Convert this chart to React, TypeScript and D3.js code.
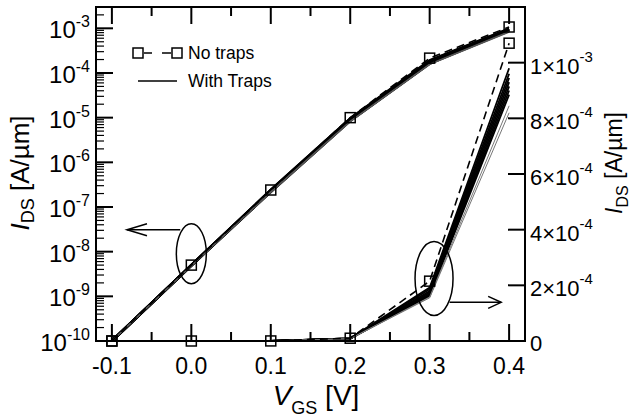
import React from 'react';
import * as d3 from 'd3';

// ---------- data ----------
const vgs = [-0.1, 0.0, 0.1, 0.2, 0.3, 0.4];
const xTickValues = [-0.1, 0.0, 0.1, 0.2, 0.3, 0.4];
const xTickLabels = ['-0.1', '0.0', '0.1', '0.2', '0.3', '0.4'];
const xMinorTicks = [-0.05, 0.05, 0.15, 0.25, 0.35];
const logTickExponents = [-10, -9, -8, -7, -6, -5, -4, -3];
const linTickValues = [0, 2e-4, 4e-4, 6e-4, 8e-4, 1e-3];
const linTickMantissas = ['0', '2', '4', '6', '8', '1'];
const linTickExps = ['', '-4', '-4', '-4', '-4', '-3'];

const noTraps = [1e-10, 5e-9, 2.4e-7, 1e-5, 2.15e-4, 1.07e-3];
const trapA = [1e-10, 5e-9, 2.4e-7, 9.6e-6, 1.92e-4, 9.8e-4];
const trapB = [1e-10, 5e-9, 2.4e-7, 9.4e-6, 1.86e-4, 9.6e-4];
const trapC = [1e-10, 5e-9, 2.3e-7, 9.2e-6, 1.8e-4, 9.45e-4];
const trapD = [1e-10, 5e-9, 2.3e-7, 9.0e-6, 1.75e-4, 9.3e-4];
const trapE = [1e-10, 4.9e-9, 2.3e-7, 8.8e-6, 1.7e-4, 9.15e-4];
const trapF = [1e-10, 4.9e-9, 2.2e-7, 8.6e-6, 1.66e-4, 9.0e-4];
const trapG = [1e-10, 4.9e-9, 2.2e-7, 8.5e-6, 1.62e-4, 8.85e-4];
const trapH = [1e-10, 4.8e-9, 2.2e-7, 8.3e-6, 1.58e-4, 8.45e-4];
const trapI = [1e-10, 4.8e-9, 2.1e-7, 8.1e-6, 1.55e-4, 8.2e-4];
const withTraps = [trapA, trapB, trapC, trapD, trapE, trapF, trapG, trapH, trapI];
const grayTraps = [false, false, false, false, false, false, false, true, true];

// annotation anchors (data space)
const leftEllipse = { x: 0.0, y: 9e-9 };
const rightEllipse = { x: 0.3055, y: 2.25e-4 };
const leftArrow = { x1: -0.014, x2: -0.081, y: 3.1e-8 };
const rightArrow = { x1: 0.325, x2: 0.39, y: 1.39e-4 };

// ---------- layout ----------
const W = 633;
const H = 419;
const L = 96, R = 525, T = 7, B = 341;
const FONT = "'Liberation Sans', Arial, Helvetica, sans-serif";

const x = d3.scaleLinear().domain([-0.12, 0.42]).range([L, R]);
const yLog = d3.scaleLog().domain([1e-10, 3e-3]).range([B, T]);
const yLin = d3.scaleLinear().domain([0, 1.2e-3]).range([B, T]);

export default function App() {
  const pts = (arr: number[]) => arr.map((v, i) => [vgs[i], v] as [number, number]);
  const logLine = d3.line<[number, number]>().x(d => x(d[0])).y(d => yLog(d[1]));
  const linLine = d3.line<[number, number]>().x(d => x(d[0])).y(d => yLin(d[1]));

  const minorLog = yLog.ticks().filter(v => {
    const e = Math.log10(v);
    return Math.abs(e - Math.round(e)) > 1e-6;
  });

  const sq = 10;

  return (
    <svg width={W} height={H} style={{ position: 'absolute', left: 0, top: 0, background: '#fff' }} fontFamily={FONT}>
      <rect x={0} y={0} width={W} height={H} fill="#fff" />

      {/* with traps lines (linear, right axis) */}
      {withTraps.map((s, i) => (
        <path key={'lin' + i} d={linLine(pts(s)) || ''} fill="none"
          stroke={grayTraps[i] ? '#777' : '#000'} strokeWidth={grayTraps[i] ? 1 : 1.8} />
      ))}
      {/* with traps lines (log, left axis) */}
      {withTraps.map((s, i) => (
        <path key={'log' + i} d={logLine(pts(s)) || ''} fill="none"
          stroke={grayTraps[i] ? '#555' : '#000'} strokeWidth={grayTraps[i] ? 1.2 : 2.6} />
      ))}

      {/* no traps dashed */}
      <path d={linLine(pts(noTraps)) || ''} fill="none" stroke="#000" strokeWidth={1.6} strokeDasharray="8,5" />
      <path d={logLine(pts(noTraps)) || ''} fill="none" stroke="#000" strokeWidth={1.6} strokeDasharray="8,5" />
      {noTraps.map((v, i) => (
        <rect key={'sl' + i} x={x(vgs[i]) - sq / 2} y={yLog(v) - sq / 2} width={sq} height={sq}
          fill="none" stroke="#000" strokeWidth={1.5} />
      ))}
      {noTraps.map((v, i) => (
        <rect key={'sn' + i} x={x(vgs[i]) - sq / 2} y={yLin(v) - sq / 2} width={sq} height={sq}
          fill="none" stroke="#000" strokeWidth={1.5} />
      ))}

      {/* frame */}
      <rect x={L} y={T} width={R - L} height={B - T} fill="none" stroke="#000" strokeWidth={2} />

      {/* x ticks bottom/top */}
      {xTickValues.map((v, i) => (
        <g key={'xt' + i}>
          <line x1={x(v)} x2={x(v)} y1={B} y2={B - 17} stroke="#000" strokeWidth={2} />
          <line x1={x(v)} x2={x(v)} y1={T} y2={T + 17} stroke="#000" strokeWidth={2} />
          <text x={x(v)} y={374} textAnchor="middle" fontSize={23}>{xTickLabels[i]}</text>
        </g>
      ))}
      {xMinorTicks.map((v, i) => (
        <g key={'xm' + i}>
          <line x1={x(v)} x2={x(v)} y1={B} y2={B - 9} stroke="#000" strokeWidth={2} />
          <line x1={x(v)} x2={x(v)} y1={T} y2={T + 9} stroke="#000" strokeWidth={2} />
        </g>
      ))}

      {/* left log axis */}
      {logTickExponents.map((e, i) => {
        const yy = yLog(Math.pow(10, e));
        return (
          <g key={'ly' + i}>
            <line x1={L} x2={L + 17} y1={yy} y2={yy} stroke="#000" strokeWidth={2} />
            <text x={90} y={yy + 10} textAnchor="end" fontSize={24}>
              <tspan>10</tspan>
              <tspan dy={-11} fontSize={16}>{String(e)}</tspan>
            </text>
          </g>
        );
      })}
      {minorLog.map((v, i) => (
        <line key={'lm' + i} x1={L} x2={L + 8} y1={yLog(v)} y2={yLog(v)} stroke="#000" strokeWidth={1.2} />
      ))}

      {/* right linear axis */}
      {linTickValues.map((v, i) => {
        const yy = yLin(v);
        return (
          <g key={'ry' + i}>
            <line x1={R} x2={R - 17} y1={yy} y2={yy} stroke="#000" strokeWidth={2} />
            {linTickExps[i] === '' ? (
              <text x={530} y={yy + 10} fontSize={22}>{linTickMantissas[i]}</text>
            ) : (
              <text x={530} y={yy + 11} fontSize={22}>
                <tspan>{linTickMantissas[i] + '×10'}</tspan>
                <tspan dy={-12} fontSize={15}>{linTickExps[i]}</tspan>
              </text>
            )}
          </g>
        );
      })}

      {/* axis titles */}
      <text x={316} y={405} textAnchor="middle" fontSize={28}>
        <tspan fontStyle="italic">V</tspan>
        <tspan dy={9} fontSize={18}>GS</tspan>
        <tspan dy={-9}> [V]</tspan>
      </text>
      <text transform="translate(29,173) rotate(-90)" textAnchor="middle" fontSize={26}>
        <tspan fontStyle="italic">I</tspan>
        <tspan dy={5} fontSize={18}>DS</tspan>
        <tspan dy={-5}> [A/µm]</tspan>
      </text>
      <text transform="translate(622,163) rotate(-90)" textAnchor="middle" fontSize={23}>
        <tspan fontStyle="italic">I</tspan>
        <tspan dy={6} fontSize={16}>DS</tspan>
        <tspan dy={-6}> [A/µm]</tspan>
      </text>

      {/* annotations */}
      <ellipse cx={x(leftEllipse.x)} cy={yLog(leftEllipse.y)} rx={15} ry={30} fill="none" stroke="#000" strokeWidth={1.5} />
      <line x1={x(leftArrow.x1)} x2={x(leftArrow.x2)} y1={yLog(leftArrow.y)} y2={yLog(leftArrow.y)} stroke="#000" strokeWidth={1.5} />
      <polyline points={`${x(leftArrow.x2) + 20},${yLog(leftArrow.y) - 6} ${x(leftArrow.x2)},${yLog(leftArrow.y)} ${x(leftArrow.x2) + 20},${yLog(leftArrow.y) + 6}`}
        fill="none" stroke="#000" strokeWidth={1.5} />

      <ellipse cx={x(rightEllipse.x)} cy={yLin(rightEllipse.y)} rx={19} ry={37} fill="none" stroke="#000" strokeWidth={1.5} />
      <line x1={x(rightArrow.x1)} x2={x(rightArrow.x2)} y1={yLin(rightArrow.y)} y2={yLin(rightArrow.y)} stroke="#000" strokeWidth={1.5} />
      <polyline points={`${x(rightArrow.x2) - 13},${yLin(rightArrow.y) - 6} ${x(rightArrow.x2)},${yLin(rightArrow.y)} ${x(rightArrow.x2) - 13},${yLin(rightArrow.y) + 6}`}
        fill="none" stroke="#000" strokeWidth={1.5} />

      {/* legend */}
      <rect x={133} y={48} width={10} height={10} fill="none" stroke="#000" strokeWidth={1.5} />
      <rect x={172} y={48} width={10} height={10} fill="none" stroke="#000" strokeWidth={1.5} />
      <line x1={144} x2={152} y1={53} y2={53} stroke="#000" strokeWidth={1.5} />
      <line x1={162} x2={171} y1={53} y2={53} stroke="#000" strokeWidth={1.5} />
      <text x={188} y={59} fontSize={17.5}>No traps</text>
      <line x1={138} x2={177} y1={81} y2={81} stroke="#000" strokeWidth={1.5} />
      <text x={188} y={87} fontSize={17.5}>With Traps</text>
    </svg>
  );
}
